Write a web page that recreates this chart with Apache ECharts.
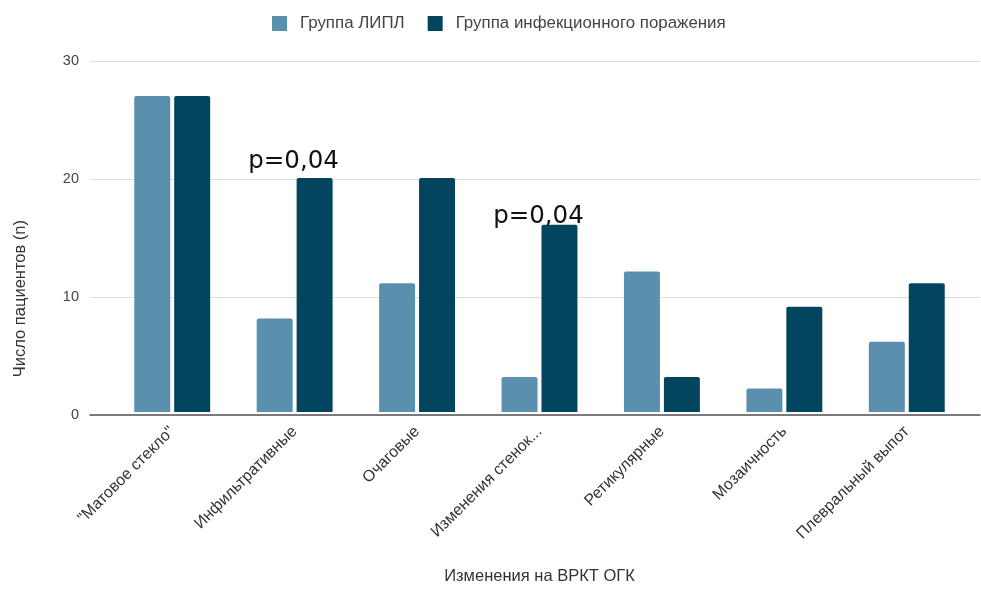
<!DOCTYPE html>
<html>
<head>
<meta charset="utf-8">
<script src="https://cdn.jsdelivr.net/npm/echarts@6/dist/echarts.min.js"></script>
<style>
  html, body { margin: 0; padding: 0; background: #fff; }
  #chart { width: 981px; height: 590px; }
</style>
</head>
<body>
<div id="chart"></div>
<script>
// Findings on chest CT, patient counts per group
const categories = [
  '"Матовое стекло"',
  'Инфильтративные',
  'Очаговые',
  'Изменения стенок...',
  'Ретикулярные',
  'Мозаичность',
  'Плевральный выпот'
];
const seriesNames = ['Группа ЛИПЛ', 'Группа инфекционного поражения'];
const lipl = [27, 8, 11, 3, 12, 2, 6];
const infection = [27, 20, 20, 16, 3, 9, 11];
// p-value notes shown above the infection-group bars
const pNotes = ['', 'p=0,04', '', 'p=0,04', '', '', ''];
const yTicks = [0, 10, 20, 30];

const colors = ['#5a90ae', '#03445f'];
const font = '"Liberation Sans", Arial, sans-serif';
// label nudges for the p-value notes (centred over the category pair)
const noteOffsets = { 1: [-21, -4], 3: [-21, 4] };

const chart = echarts.init(document.getElementById('chart'));

chart.setOption({
  animation: false,
  backgroundColor: '#fff',
  color: colors,
  legend: {
    top: 10,
    left: 267,
    itemWidth: 15,
    itemHeight: 15,
    itemGap: 23,
    icon: 'rect',
    textStyle: { fontFamily: font, fontSize: 16.9, color: '#444', padding: [0, 0, 0, 8] },
    data: seriesNames
  },
  grid: [
    { left: 90, right: 1, top: 61, bottom: 175 },
    { left: 111, right: 13, top: 61, bottom: 175 }
  ],
  xAxis: [
    {
      type: 'category', gridIndex: 0, data: [''],
      axisLine: { lineStyle: { color: '#555', width: 1.5 } },
      axisTick: { show: false }, axisLabel: { show: false }
    },
    {
      type: 'category', gridIndex: 1, data: categories,
      axisLine: { show: false }, axisTick: { show: false },
      axisLabel: {
        rotate: 45, margin: 17, interval: 0,
        fontFamily: font, fontSize: 16, color: '#333'
      },
      name: 'Изменения на ВРКТ ОГК',
      nameLocation: 'middle', nameGap: 156,
      nameTextStyle: { fontFamily: font, fontSize: 16.5, color: '#333' }
    }
  ],
  yAxis: [
    {
      type: 'value', gridIndex: 0, min: yTicks[0], max: yTicks[yTicks.length - 1], interval: 10,
      axisLine: { show: false }, axisTick: { show: false },
      axisLabel: { fontFamily: font, fontSize: 14.5, color: '#444', margin: 11 },
      splitLine: { lineStyle: { color: '#dcdcdc', width: 1 } }
    },
    {
      type: 'value', gridIndex: 1, min: yTicks[0], max: yTicks[yTicks.length - 1], interval: 10,
      show: false, splitLine: { show: false }
    }
  ],
  graphic: [
    {
      type: 'text', left: 12, top: 220, rotation: Math.PI / 2,
      style: {
        text: 'Число пациентов (n)',
        fontFamily: font, fontSize: 16.5, fill: '#333'
      }
    }
  ],
  series: [
    {
      name: seriesNames[0], type: 'bar', xAxisIndex: 1, yAxisIndex: 1,
      data: lipl,
      barCategoryGap: '38%', barGap: '11%',
      itemStyle: { color: colors[0], borderRadius: [2, 2, 0, 0] }
    },
    {
      name: seriesNames[1], type: 'bar', xAxisIndex: 1, yAxisIndex: 1,
      data: infection.map((v, i) => ({
        value: v,
        label: pNotes[i] ? {
          show: true, position: 'top', distance: 0,
          offset: noteOffsets[i] || [-21, 0],
          formatter: pNotes[i],
          fontFamily: '"DejaVu Sans", sans-serif', fontSize: 24.5, color: '#111'
        } : { show: false }
      })),
      barCategoryGap: '38%', barGap: '11%',
      itemStyle: { color: colors[1], borderRadius: [2, 2, 0, 0] }
    }
  ]
});
</script>
</body>
</html>
